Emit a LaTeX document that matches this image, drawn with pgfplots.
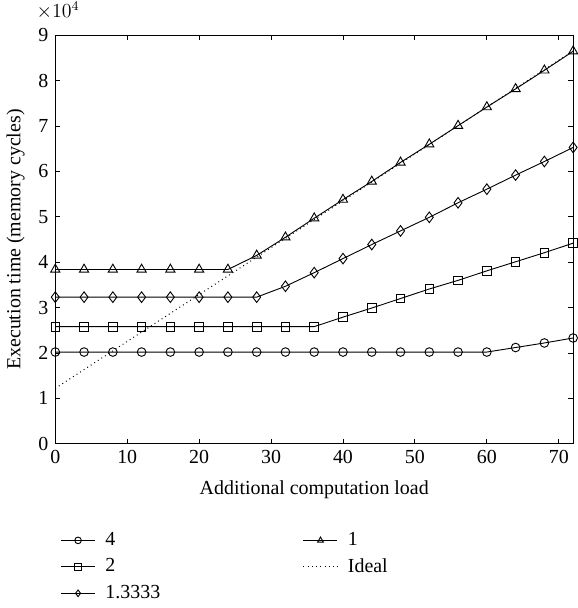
\documentclass[border=0pt]{standalone}
\usepackage{fontspec}
\setmainfont{Liberation Serif}
\usepackage{pgfplots}
\pgfplotsset{compat=1.18}
\begin{document}
\fontsize{12}{14}\selectfont
\begin{tikzpicture}
\begin{axis}[
  width=312pt, height=246pt, scale only axis,
  xmin=0, xmax=72, ymin=0, ymax=9,
  xtick={0,10,...,70}, ytick={0,1,...,9},
  tick align=inside, tick pos=both,
  major tick length=3pt,
  clip mode=individual,
  /pgf/number format/assume math mode=true,
  xlabel={Additional computation load},
  ylabel={Execution time (memory cycles)},
  xlabel style={yshift=-2pt},
  every axis plot/.append style={line width=0.55pt, black},
  mark size=2.6pt,
  every tick/.style={black, line width=0.5pt},
  axis line style={line width=0.7pt},
  legend style={at={(0.0,-0.2)}, anchor=north west, draw=none, fill=none,
    legend columns=2, row sep=2pt,
    /tikz/every odd column/.append style={column sep=4pt},
    /tikz/every even column/.append style={column sep=84pt}},
  legend cell align=left,
  legend image code/.code={\draw[#1, mark=none] (0cm,0cm) -- (0.72cm,0cm);
    \draw[#1, mark size=2pt, only marks] plot coordinates {(0.36cm,0cm)};},
]
\addplot[mark=o] coordinates {
(0,2.02)(4,2.02)(8,2.02)(12,2.02)(16,2.02)(20,2.02)(24,2.02)(28,2.02)(32,2.02)(36,2.02)(40,2.02)(44,2.02)(48,2.02)(52,2.02)(56,2.02)(60,2.02)(64,2.12)(68,2.22)(72,2.33)};
\addlegendentry{4}
\addplot[mark=triangle, mark size=3.2pt] coordinates {
(0,3.84)(4,3.84)(8,3.84)(12,3.84)(16,3.84)(20,3.84)(24,3.84)(28,4.15)(32,4.55)(36,4.97)(40,5.38)(44,5.78)(48,6.2)(52,6.6)(56,7.01)(60,7.42)(64,7.82)(68,8.23)(72,8.65)};
\addlegendentry{1}
\addplot[mark=square] coordinates {
(0,2.58)(4,2.58)(8,2.58)(12,2.58)(16,2.58)(20,2.58)(24,2.58)(28,2.58)(32,2.58)(36,2.58)(40,2.79)(44,2.99)(48,3.2)(52,3.41)(56,3.6)(60,3.81)(64,4.01)(68,4.21)(72,4.42)};
\addlegendentry{2}
\addplot[dotted, mark=none, line width=0.6pt] coordinates {(0,1.22)(72,8.66)};
\addlegendentry{Ideal}
\addplot[mark=diamond, mark size=3.2pt] coordinates {
(0,3.23)(4,3.23)(8,3.23)(12,3.23)(16,3.23)(20,3.23)(24,3.23)(28,3.23)(32,3.47)(36,3.77)(40,4.08)(44,4.39)(48,4.69)(52,4.99)(56,5.31)(60,5.61)(64,5.92)(68,6.22)(72,6.53)};
\addlegendentry{1.3333}
\node[anchor=south west, inner sep=1pt] at (rel axis cs:-0.04,1.035) {$\times10^4$};
\end{axis}
\end{tikzpicture}
\end{document}
